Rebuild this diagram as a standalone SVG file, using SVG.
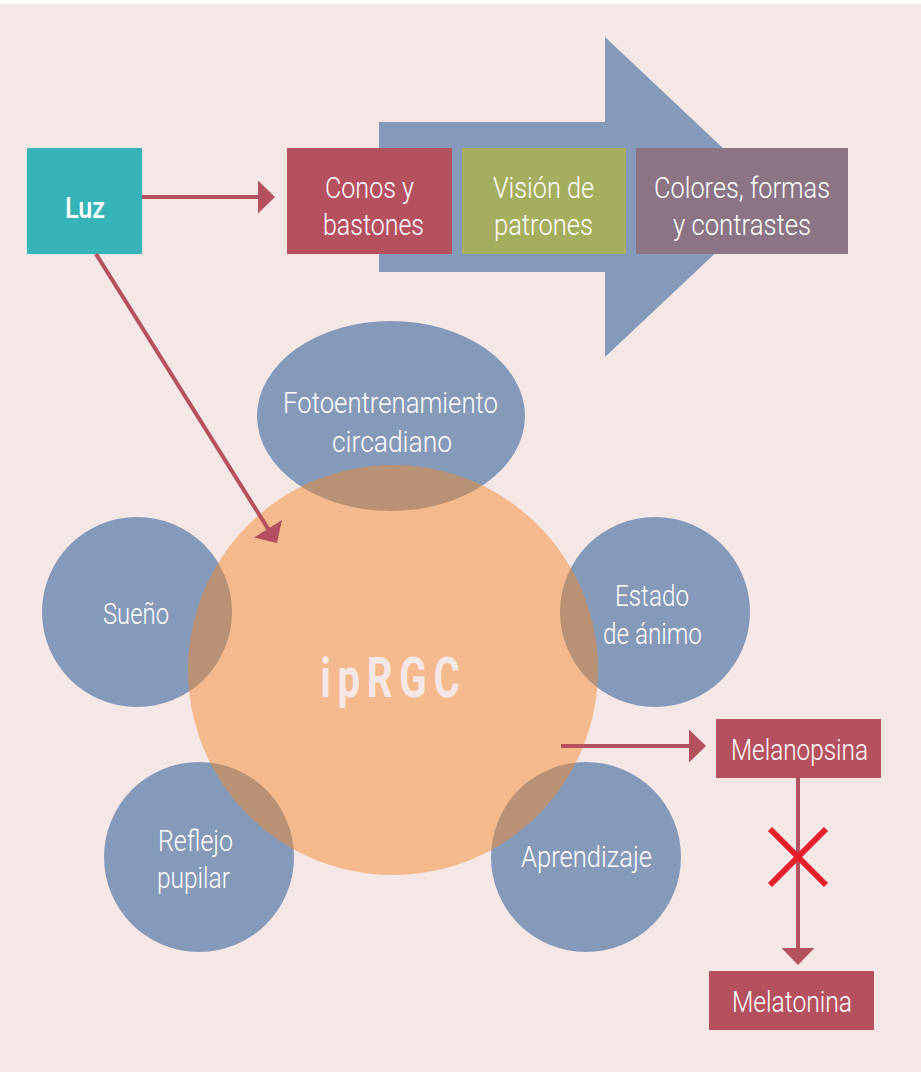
<svg xmlns="http://www.w3.org/2000/svg" width="921" height="1078" viewBox="0 0 921 1078">
<defs>
<style>
.bg{fill:#f6e7e7}
.blue{fill:#8599b9}
.lbl{font-family:Roboto,"Liberation Sans",sans-serif;font-size:30px;font-weight:300;fill:#ffffff;text-anchor:middle}
.con{stroke:#b5505f;stroke-width:4;fill:none}
</style>
<marker id="ah" viewBox="0 0 17 33" refX="14" refY="16.5" markerWidth="17" markerHeight="33" markerUnits="userSpaceOnUse" orient="auto">
<path d="M0,0 L17,16.5 L0,33 Z" fill="#b5505f"/>
</marker>
</defs>
<rect x="0" y="0" width="921" height="1078" fill="#ffffff"/>
<rect class="bg" x="0" y="4" width="921" height="1068"/>

<g id="big-arrow">
<polygon class="blue" points="379,122 605,122 605,37 775,197 605,357 605,272 379,272"/>
</g>

<g id="luz">
<rect x="27" y="148" width="115" height="106" fill="#37b4b7"/>
<text class="lbl" x="85" y="218" style="font-weight:500" textLength="40" lengthAdjust="spacingAndGlyphs">Luz</text>
</g>
<g id="conos">
<rect x="287" y="148" width="165" height="106" fill="#b5505f"/>
<text class="lbl" x="369.5" y="198" textLength="89" lengthAdjust="spacingAndGlyphs">Conos y</text>
<text class="lbl" x="373.5" y="235" textLength="101" lengthAdjust="spacingAndGlyphs">bastones</text>
</g>
<g id="vision">
<rect x="462" y="148" width="164" height="106" fill="#a5ae5e"/>
<text class="lbl" x="543.5" y="198" textLength="101" lengthAdjust="spacingAndGlyphs">Visión de</text>
<text class="lbl" x="543.5" y="235" textLength="99" lengthAdjust="spacingAndGlyphs">patrones</text>
</g>
<g id="colores">
<rect x="636" y="148" width="212" height="106" fill="#8b7585"/>
<text class="lbl" x="742" y="198" textLength="176" lengthAdjust="spacingAndGlyphs">Colores, formas</text>
<text class="lbl" x="742" y="235" textLength="138" lengthAdjust="spacingAndGlyphs">y contrastes</text>
</g>

<g id="circles-bg">
<ellipse class="blue" cx="391" cy="416" rx="134" ry="95"/>
<circle class="blue" cx="137" cy="612" r="95"/>
<circle class="blue" cx="655" cy="612" r="95"/>
<circle class="blue" cx="199" cy="857" r="95"/>
<circle class="blue" cx="586" cy="857" r="95"/>
</g>

<g id="iprgc">
<circle cx="393" cy="670" r="205" fill="#f28a2e" fill-opacity="0.48"/>
<text transform="scale(0.72,1)" x="541.7" y="697" style="font-family:Roboto,'Liberation Sans',sans-serif;font-size:56px;font-weight:700;fill:#f6e7e7;text-anchor:middle" textLength="194" lengthAdjust="spacing">ipRGC</text>
</g>

<g id="fotoentrenamiento">
<text class="lbl" x="390.5" y="413" textLength="215" lengthAdjust="spacingAndGlyphs">Fotoentrenamiento</text>
<text class="lbl" x="392" y="452" textLength="120" lengthAdjust="spacingAndGlyphs">circadiano</text>
</g>
<g id="sueno">
<text class="lbl" x="136" y="624" textLength="66" lengthAdjust="spacingAndGlyphs">Sueño</text>
</g>
<g id="estado">
<text class="lbl" x="652" y="606" textLength="74" lengthAdjust="spacingAndGlyphs">Estado</text>
<text class="lbl" x="652.5" y="644" textLength="99" lengthAdjust="spacingAndGlyphs">de ánimo</text>
</g>
<g id="reflejo">
<text class="lbl" x="195.5" y="851" textLength="75" lengthAdjust="spacingAndGlyphs">Reflejo</text>
<text class="lbl" x="193.5" y="888" textLength="73" lengthAdjust="spacingAndGlyphs">pupilar</text>
</g>
<g id="aprendizaje">
<text class="lbl" x="586.5" y="867" textLength="131" lengthAdjust="spacingAndGlyphs">Aprendizaje</text>
</g>

<g id="melanopsina">
<rect x="716" y="719" width="165" height="59" fill="#b5505f"/>
<text class="lbl" x="799.5" y="760" textLength="137" lengthAdjust="spacingAndGlyphs">Melanopsina</text>
</g>
<g id="melatonina">
<rect x="709" y="971" width="165" height="59" fill="#b5505f"/>
<text class="lbl" x="792" y="1012" textLength="120" lengthAdjust="spacingAndGlyphs">Melatonina</text>
</g>

<g id="connectors">
<line class="con" x1="142" y1="197" x2="272" y2="197" marker-end="url(#ah)"/>
<line class="con" x1="96" y1="254" x2="275.4" y2="540.5" marker-end="url(#ah)"/>
<line class="con" x1="561" y1="746" x2="703" y2="746" marker-end="url(#ah)"/>
<line class="con" x1="798" y1="778" x2="798" y2="962" marker-end="url(#ah)"/>
<g id="block" stroke="#e5202a" stroke-width="6">
<line x1="770" y1="829" x2="826" y2="885"/>
<line x1="826" y1="829" x2="770" y2="885"/>
</g>
</g>
</svg>
